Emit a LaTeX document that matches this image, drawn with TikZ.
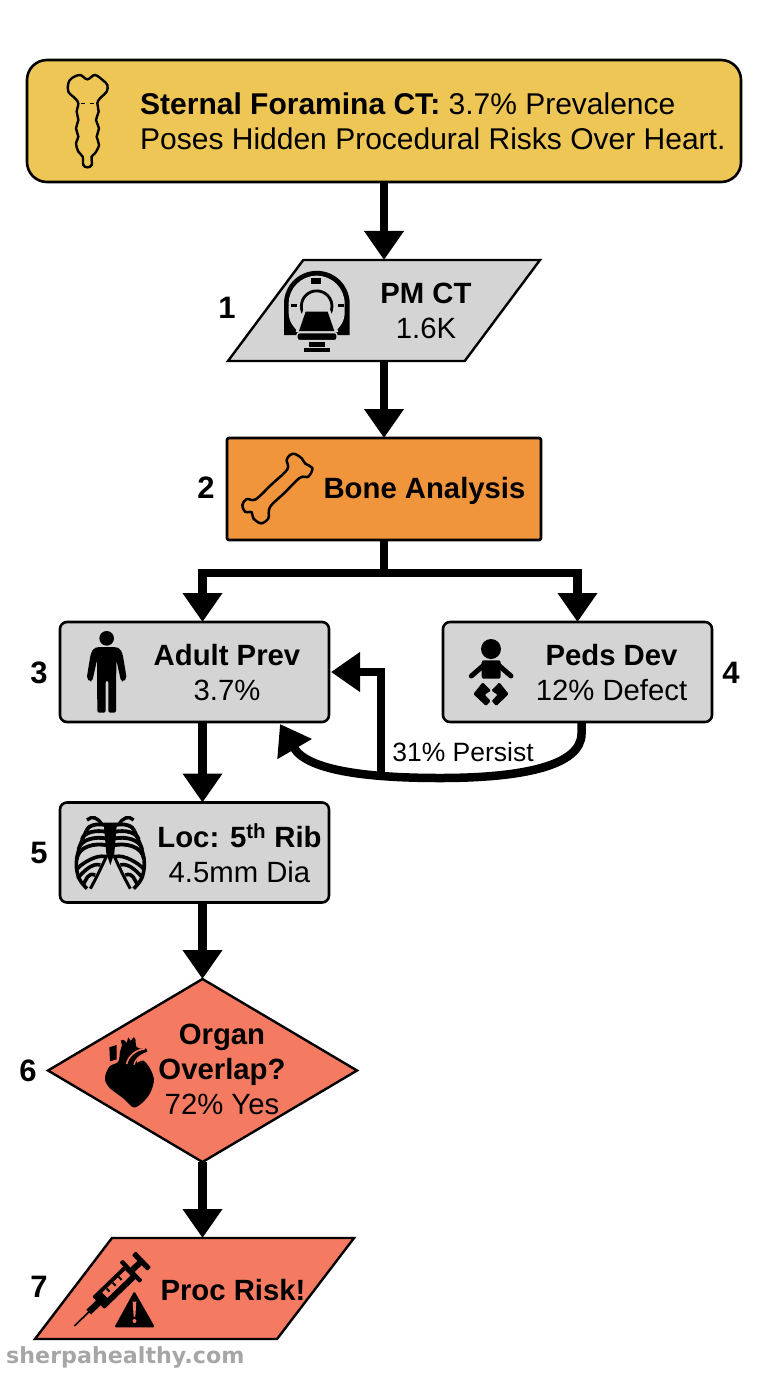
\documentclass[tikz,border=0pt]{standalone}
\usepackage{fontspec}
\setmainfont{Liberation Sans}
\newfontfamily\markfont{DejaVu Sans}
\usetikzlibrary{arrows.meta}
\usetikzlibrary{shapes.geometric}
\definecolor{bannercol}{HTML}{EDC655}
\definecolor{greycol}{HTML}{D4D4D4}
\definecolor{orangecol}{HTML}{F0953B}
\definecolor{riskcol}{HTML}{F47A62}

\begin{document}
\begin{tikzpicture}[x=1pt,y=-1pt,
box/.style={draw,rectangle,line width=2.6pt,outer sep=0pt,inner sep=0pt},
banner/.style={box,rounded corners=20pt,fill=bannercol,minimum width=714pt,minimum height=122pt},
greybox/.style={box,rounded corners=7pt,fill=greycol,minimum width=269pt,minimum height=100pt},
bonebox/.style={box,rounded corners=2pt,fill=orangecol,minimum width=314pt,minimum height=102pt},
slant/.style={draw,trapezium,trapezium stretches=true,trapezium left angle=65,trapezium right angle=115,line width=2.4pt,outer sep=0pt,inner sep=1pt,minimum width=312pt,minimum height=101pt},
choice/.style={draw,diamond,aspect=1.69,line width=2.4pt,outer sep=0pt,inner sep=0pt,fill=riskcol,minimum width=309pt,minimum height=183pt},
flow/.style={line width=8.5pt,-{Triangle[length=29pt,width=38pt]}},
txt/.style={font=\fontsize{29.3}{35}\selectfont,align=center,inner sep=0pt},
num/.style={font=\fontsize{31}{31}\selectfont\bfseries,inner sep=0pt}]
\useasboundingbox (0,0) rectangle (768,1376);

\draw (384,121) node[banner] (Banner) {};
\draw (384,310.5) node[slant,fill=greycol] (PMCT) {};
\draw (384,489) node[bonebox] (BoneBox) {};
\draw (194.5,672) node[greybox] (Adult) {};
\draw (577.5,672) node[greybox] (Peds) {};
\draw (194.5,852.5) node[greybox] (Rib) {};
\draw (202.5,1070.5) node[choice] (Overlap) {};
\draw (194.5,1288.5) node[slant,fill=riskcol,minimum width=319pt] (Risk) {};

% texts
\draw (Banner.west) ++(113,0) node[txt,anchor=west,align=left,font=\fontsize{30}{35}\selectfont] (BannerText) {\textbf{Sternal Foramina CT:} 3.7\% Prevalence\\Poses Hidden Procedural Risks Over Heart.};
\draw (426,311) node[txt] (PMCTText) {\textbf{PM CT}\\1.6K};
\draw (424.5,491) node[txt] (BoneText) {\textbf{Bone Analysis}};
\draw (227,673) node[txt] (AdultText) {\textbf{Adult Prev}\\3.7\%};
\draw (611.5,673) node[txt] (PedsText) {\textbf{Peds Dev}\\12\% Defect};
\draw (239.5,853) node[txt] (RibText) {\textbf{Loc: 5\textsuperscript{th} Rib}\\4.5mm Dia};
\draw (222,1069) node[txt] (OverlapText) {\textbf{Organ}\\\textbf{Overlap?}\\72\% Yes};
\draw (233,1290) node[txt] (RiskText) {\textbf{Proc Risk!}};

% step numbers
\draw (227,308) node[num] (N1) {1};
\draw (206,488) node[num] (N2) {2};
\draw (39,673) node[num] (N3) {3};
\draw (731,673) node[num] (N4) {4};
\draw (39,853) node[num] (N5) {5};
\draw (28,1071) node[num] (N6) {6};
\draw (39,1287) node[num] (N7) {7};

% connectors
\draw[flow] (Banner.south) -- (PMCT.north);
\draw[flow] (PMCT.south) -- (BoneBox.north);
\draw[line width=8.5pt] (BoneBox.south) -- ++(0,33) coordinate (Split);
\draw[flow] (Split) -| ([xshift=8pt]Adult.north);
\draw[flow] (Split) -| (Peds.north);
\draw[flow] ([xshift=8pt]Adult.south) -- ([xshift=8pt]Rib.north);
\draw[flow] ([xshift=8pt]Rib.south) -- (Overlap.north);
\draw[flow] (Overlap.south) -- ([xshift=8pt]Risk.north);
\draw (Peds.south) ++(4,0) coordinate (PedsOut);
\draw (Adult.south east) ++(-49,2) coordinate (AdultIn);
\draw (381,778) coordinate (Branch);
\draw (Adult.east) ++(2,0) coordinate (AdultSide);
\draw[flow] (PedsOut) -- ++(0,12) .. controls (581,765) and (525,778) .. (440,778) .. controls (375,778) and (308,772) .. (AdultIn);
\draw[flow] (Branch) |- (AdultSide);
\draw (463,752) node[font=\fontsize{26.5}{30}\selectfont,inner sep=0pt] (Persist) {31\% Persist};

% sternum
\begin{scope}[shift={(0,40)},scale=1/3]
\draw[line width=2.4pt,smooth cycle,tension=0.6] plot coordinates {(215,115) (240,105) (262,118) (285,105) (310,122) (322,135) (320,155) (300,175) (292,190) (296,215) (288,240) (297,265) (290,290) (297,315) (285,340) (275,350) (275,375) (262,382) (250,375) (248,350) (235,335) (228,310) (235,290) (228,265) (235,240) (230,215) (235,190) (225,175) (205,155) (205,130)};
\draw[line width=1.6pt] (242,190) -- (255,190);
\draw[line width=1.6pt] (270,190) -- (283,190);
\end{scope}

% ct scanner
\begin{scope}[shift={(275,266)},scale=1/3]
\fill (27,207) -- (27,113) arc[start angle=180,end angle=360,radius=98.5] -- (224,207) -- cycle;
\fill[greycol] (41,140) -- (41,113) arc[start angle=180,end angle=360,radius=84] -- (209,140) .. controls (209,165) and (195,185) .. (176,200) -- (74,200) .. controls (55,185) and (41,165) .. (41,140) -- cycle;
\fill (108,37) rectangle (138,55);
\fill (48,115) rectangle (65,122);
\fill (188,115) rectangle (208,122);
\draw[line width=2.8pt] (86,145) arc[start angle=148,end angle=392,radius=46];
\fill[greycol] (86,128) -- (164,128) -- (190,198) -- (62,198) -- cycle;
\fill (92,137) -- (158,137) -- (178,195) -- (72,195) -- cycle;
\draw[fill=black,draw=greycol,line width=1.4pt,rounded corners=2.5pt] (66,200) rectangle (186,224);
\fill (102,228) rectangle (150,242);
\fill (88,245) rectangle (165,258);
\end{scope}

% bone
\begin{scope}[shift={(225,435)},scale=1/3]
\draw[line width=2.5pt,smooth cycle,tension=0.55] plot coordinates {(210,57) (230,70) (240,85) (262,100) (250,125) (225,128) (180,172) (135,216) (130,250) (108,265) (85,250) (80,232) (60,230) (52,210) (65,192) (92,193) (140,148) (187,103) (185,75) (195,60)};
\end{scope}

% adult
\begin{scope}[shift={(40,610)},scale=1/3]
\fill (200,85) circle[radius=22];
\fill[rounded corners=2pt] (172,111) -- (228,111) -- (240,116) -- (248,132) -- (260,205) -- (250,215) -- (243,213) -- (229,150) -- (228,308) -- (205,308) -- (205,212) -- (197,212) -- (197,308) -- (172,308) -- (171,150) -- (157,213) -- (150,215) -- (140,205) -- (152,132) -- (160,116) -- cycle;
\end{scope}

% baby
\begin{scope}[shift={(260,600)},scale=1/3]
\fill (693,147) circle[radius=30];
\fill[rounded corners=2pt] (665,181) -- (722,181) -- (722,236) -- (665,236) -- cycle;
\draw[line width=5pt,line cap=round] (672,195) -- (634,228);
\draw[line width=5pt,line cap=round] (715,195) -- (753,228);
\fill[rounded corners=1.2pt] (640,282) -- (668,247) -- (693,272) -- (674,284) -- (692,303) -- (678,318) -- cycle;
\fill[rounded corners=1.2pt] (746,282) -- (718,247) -- (694,272) -- (713,284) -- (695,303) -- (709,318) -- cycle;
\end{scope}

% ribcage
\begin{scope}[shift={(70,810)},scale=1/3]
\foreach \s in {1,-1} {
\begin{scope}[shift={(121,0)},xscale=\s]
\draw[line width=3.4pt] (-25,44) .. controls (-38,22) and (-55,16) .. (-70,30);
\draw[line width=3.6pt,smooth,tension=0.6] plot coordinates {(-72,62) (-92,110) (-102,160) (-94,205) (-70,236)};
\draw[line width=3pt] (-10,135) .. controls (-28,175) and (-48,215) .. (-60,236);
\foreach \y/\xo/\yo in {46/-72/62,66/-85/88,86/-95/118,106/-101/148} {
\draw[line width=3.8pt] (-10,\y) .. controls (-45,\y-8) and (\xo+5,\y+2) .. (\xo,\yo);
}
\foreach \x/\y/\xo/\yo in {-15/140/-101/178,-30/165/-98/205,-45/195/-84/226} {
\draw[line width=3.6pt] (\x,\y) .. controls (\x-25,\y-8) and (\xo+15,\yo-18) .. (\xo,\yo);
}
\end{scope}
}
\fill (101,38) -- (141,38) -- (133,130) -- (121,165) -- (109,130) -- cycle;
\end{scope}

% heart
\begin{scope}[shift={(100,1030)},scale=1/3]
\fill (28,52) -- (50,45) -- (50,88) -- (30,94) -- cycle;
\fill[smooth cycle,tension=0.5] plot coordinates {(18,130) (30,108) (55,95) (60,65) (66,45) (62,32) (72,30) (80,38) (85,22) (92,33) (100,22) (107,30) (108,48) (120,56) (137,55) (141,66) (118,78) (110,98) (130,92) (150,115) (162,150) (150,190) (125,220) (100,232) (70,205) (30,175) (15,150)};
\draw[riskcol,line width=1.6pt] (80,102) .. controls (84,80) and (105,60) .. (135,56);
\draw[riskcol,line width=1.4pt] (102,104) .. controls (106,88) and (118,76) .. (142,68);
\end{scope}

% syringe with warning sign
\begin{scope}[shift={(65,1245)},scale=1/3]
\begin{scope}[shift={(28,243)},rotate=44]
\draw[line width=1.6pt] (0,0) -- (70,0);
\fill (60,-10) rectangle (102,10);
\fill[rounded corners=1pt] (100,-26) rectangle (232,26);
\fill[riskcol] (130,-14) rectangle (226,8);
\foreach \u in {145,170,195} {
\fill (\u,-14) rectangle (\u+6,-1);
}
\fill[rounded corners=1pt] (230,-43) rectangle (243,43);
\fill (243,-9) rectangle (275,9);
\fill[rounded corners=1pt] (272,-33) rectangle (288,33);
\end{scope}
\fill[rounded corners=1.5pt] (148,247) -- (208,138) -- (270,247) -- cycle;
\fill[riskcol] (203,170) -- (214,170) -- (211,215) -- (206,215) -- cycle;
\fill[riskcol] (208.5,228) circle[radius=6];
\end{scope}

% watermark
\draw (6,1357) node[anchor=west,inner sep=0pt,text=black!35,font=\markfont\bfseries\fontsize{22.2}{24}\selectfont] (Mark) {sherpahealthy.com};
\end{tikzpicture}
\end{document}
